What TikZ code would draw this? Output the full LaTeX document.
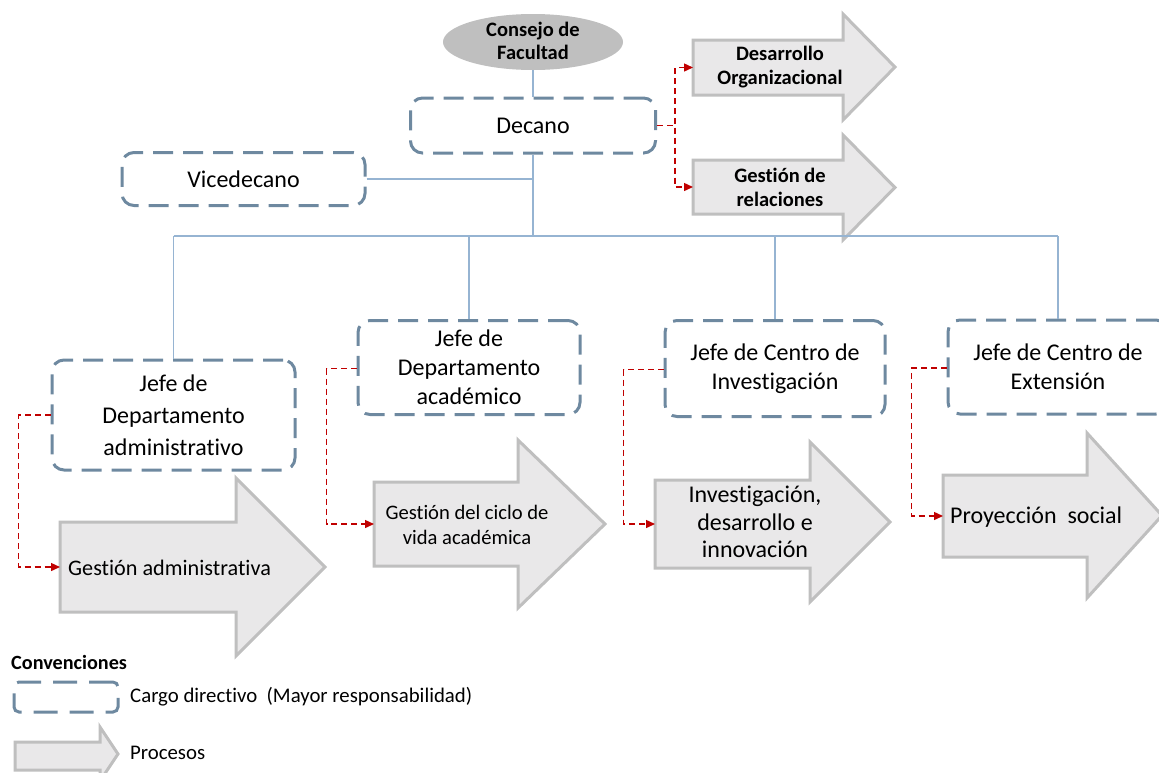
\documentclass[tikz,border=0pt]{standalone}
\usepackage{fontspec}
\setmainfont{Carlito}[Ligatures=NoCommon]
\usetikzlibrary{shapes.geometric,arrows.meta}
\definecolor{cargoc}{RGB}{110,137,160}
\definecolor{treec}{RGB}{150,180,210}
\definecolor{redc}{RGB}{192,0,0}
\definecolor{procfill}{RGB}{233,232,233}
\definecolor{procline}{RGB}{191,191,191}
\definecolor{consfill}{RGB}{191,191,191}
\newcommand{\parrow}[8]{%
  \draw[proc] (#2,#3) -- (#5,#3) -- (#5,#6) -- (#8,{(#6+#7)/2}) -- (#5,#7) -- (#5,#4) -- (#2,#4) -- cycle;
  \coordinate (#1) at (#2,{(#3+#4)/2});}
\begin{document}
\begin{tikzpicture}[x=1pt,y=-1pt,
 cargo/.style={draw=cargoc, line width=3pt, dash pattern=on 20pt off 10pt, rounded corners=12pt, inner sep=0pt, align=center, font=\fontsize{24}{29}\selectfont},
 tree/.style={draw=treec, line width=1.2pt},
 redline/.style={draw=redc, line width=1.4pt, dash pattern=on 6pt off 4pt, -{Triangle[length=9pt,width=8pt]}},
 proc/.style={draw=procline, fill=procfill, line width=3pt, line join=miter},
 ptext/.style={inner sep=0pt, align=center, font=\fontsize{24}{27.5}\selectfont},
 btext/.style={inner sep=0pt, align=center, font=\bfseries\fontsize{20.5}{24}\selectfont},
]
\useasboundingbox (0,0) rectangle (1159,772);

% process arrows
\parrow{desorg}{693}{40}{95}{843}{14}{120}{895}
\parrow{grel}{693}{160}{214}{843}{135}{240}{895}
\parrow{gadm}{60}{522}{612}{236}{478}{656}{325}
\parrow{gciclo}{374}{482}{566}{518}{440}{608}{605}
\parrow{ginv}{655}{480}{568}{810}{442}{602}{890}
\parrow{gproy}{943}{475}{557}{1087}{433}{598}{1162}
\parrow{lproc}{15}{742}{770}{100}{727}{781}{118}

\node[btext] (tdesorg) at (780,67) {Desarrollo\\Organizacional};
\node[btext] (tgrel) at (780,187) {Gestión de\\relaciones};
\node[ptext, anchor=west, font=\fontsize{22.2}{27}\selectfont] (tgadm) at (68,568) {Gestión administrativa};
\node[inner sep=0pt, align=center, font=\fontsize{20.6}{25}\selectfont] (tgciclo) at (467,525) {Gestión del ciclo de\\vida académica};
\node[ptext] (tginv) at (755,522) {Investigación,\\desarrollo e\\innovación};
\node[ptext, anchor=west] (tgproy) at (950,517) {Proyección\ \ social};

% consejo
\node[ellipse, fill=consfill, minimum width=180pt, minimum height=56pt, inner sep=0pt, align=center, font=\bfseries\fontsize{20.5}{25}\selectfont] (cons) at (533,42) {\raisebox{2pt}{\shortstack{Consejo de\\[2pt]Facultad}}};

% cargo boxes
\node[cargo, minimum width=245pt, minimum height=55pt] (dec) at (533,125.5) {Decano};
\node[cargo, minimum width=243pt, minimum height=53pt] (vice) at (243.5,179) {Vicedecano};
\node[cargo, minimum width=243pt, minimum height=110pt, font=\fontsize{24}{32}\selectfont] (jadm) at (173.5,415) {\raisebox{2pt}{\parbox{200pt}{\centering Jefe de\\Departamento\\administrativo}}};
\node[cargo, minimum width=222pt, minimum height=94pt] (jacad) at (469,367.5) {Jefe de\\Departamento\\académico};
\node[cargo, minimum width=220pt, minimum height=96pt] (jinv) at (775,368.5) {Jefe de Centro de\\Investigación};
\node[cargo, minimum width=220pt, minimum height=94pt] (jext) at (1058,367) {Jefe de Centro de\\Extensión};

% tree connectors
\coordinate (bus) at (533,236);
\draw[tree] (cons.south) -- (dec.north);
\draw[tree] (dec.south) -- (bus);
\draw[tree] (vice.east) -- (vice.east -| dec.south);
\draw[tree] (jadm.north |- bus) -- (jext.north |- bus);
\draw[tree] (jadm.north) -- (jadm.north |- bus);
\draw[tree] (jacad.north) -- (jacad.north |- bus);
\draw[tree] (jinv.north) -- (jinv.north |- bus);
\draw[tree] (jext.north) -- (jext.north |- bus);

% red connectors
\draw[redline] (dec.east) -- ++(18,0) |- (desorg);
\draw[redline] (dec.east) -- ++(18,0) |- (grel);
\draw[redline] (jadm.west) -- ++(-32,0) |- (gadm);
\draw[redline] ([yshift=-1pt]jacad.west) -- ++(-30,0) |- (gciclo);
\draw[redline] ([yshift=-1pt]jinv.west) -- ++(-40,0) |- (ginv);
\draw[redline] ([yshift=-1pt]jext.west) -- ++(-35,0) |- (gproy);

% legend
\node[anchor=west, inner sep=0pt, font=\bfseries\fontsize{20.2}{24}\selectfont] (conv) at (11,662) {Convenciones};
\node[draw=cargoc, line width=3pt, dash pattern=on 24pt off 12pt, rounded corners=5pt, minimum width=104pt, minimum height=30pt, inner sep=0pt] (lbox) at (66,697) {};
\node[anchor=west, inner sep=0pt, font=\fontsize{20.8}{24}\selectfont] (lcargo) at (130,697) {Cargo directivo\ \ (Mayor responsabilidad)};
\node[anchor=west, inner sep=0pt, font=\fontsize{20.8}{24}\selectfont] (lproct) at (130,753) {Procesos};
\end{tikzpicture}
\end{document}
